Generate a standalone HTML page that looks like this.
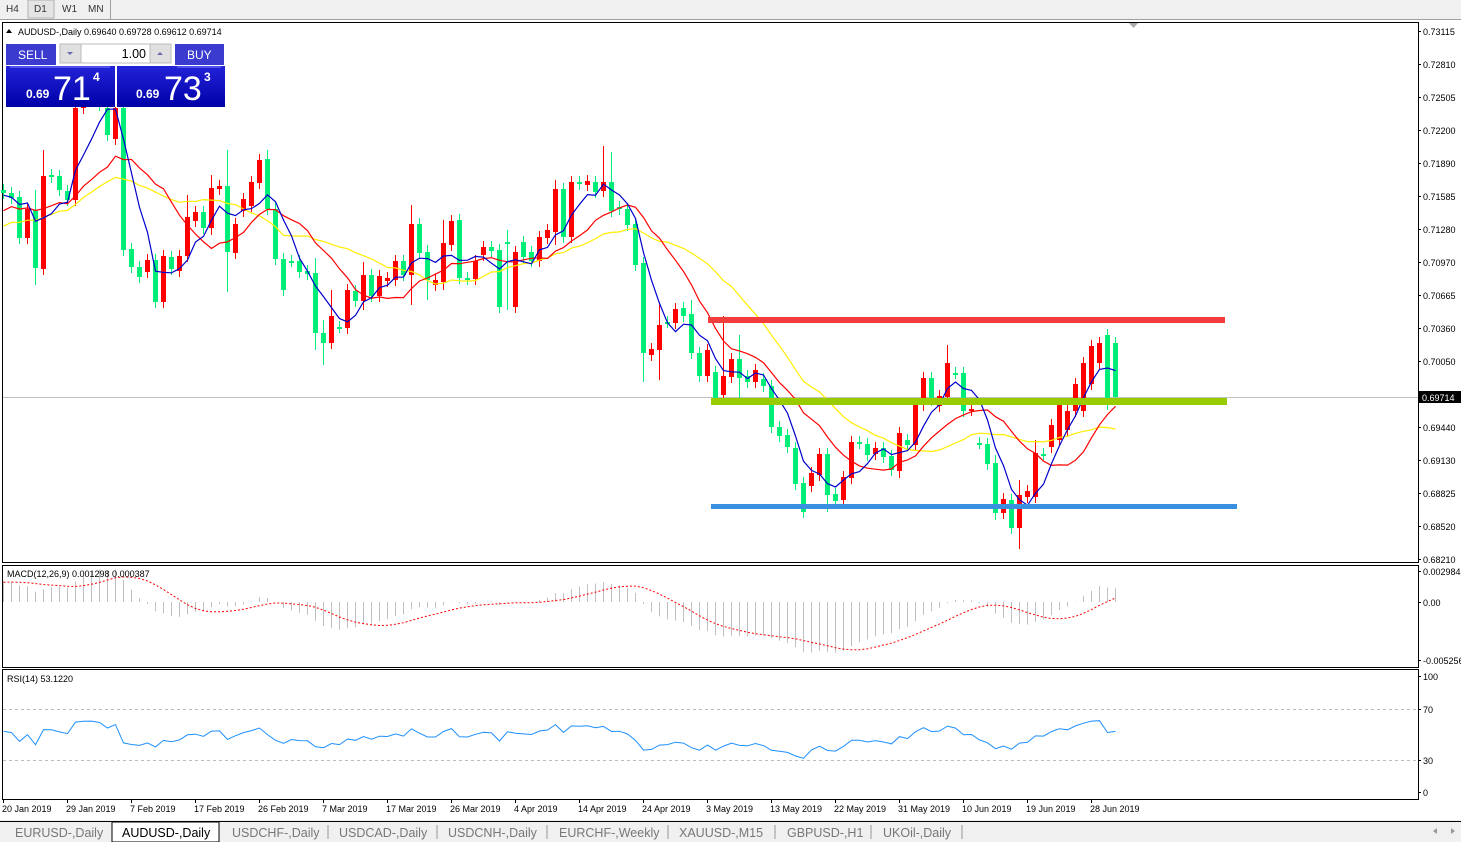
<!DOCTYPE html>
<html><head><meta charset="utf-8"><style>
body{margin:0;width:1461px;height:842px;overflow:hidden;background:#fff;font-family:"Liberation Sans",sans-serif;}
svg{position:absolute;left:0;top:0}
</style></head><body>
<svg id="s" width="1461" height="842" xmlns="http://www.w3.org/2000/svg" font-family="Liberation Sans, sans-serif">
<rect x="0" y="0" width="1461" height="842" fill="#fff"/>
<rect x="0" y="0" width="1461" height="19" fill="#f0f0f0"/>
<line x1="0" y1="19.5" x2="1461" y2="19.5" stroke="#a0a0a0"/>
<rect x="28" y="0" width="26" height="18" fill="#e4e4e4" stroke="#b0b0b0"/>
<line x1="110.5" y1="0" x2="110.5" y2="19" stroke="#a0a0a0"/>
<g font-size="10" fill="#333"><text x="6" y="12">H4</text><text x="34" y="12">D1</text><text x="62" y="12">W1</text><text x="88" y="12">MN</text></g>
<rect x="2.5" y="22.5" width="1416" height="540" fill="none" stroke="#000"/>
<rect x="2.5" y="565.5" width="1416" height="102" fill="none" stroke="#000"/>
<rect x="2.5" y="669.5" width="1416" height="130" fill="none" stroke="#000"/>
<line x1="3" y1="397.5" x2="1418" y2="397.5" stroke="#c0c0c0"/>
<polygon points="1129,23 1138,23 1133.5,28" fill="#aaa"/>
<g id="main"></g>
<rect x="708" y="317" width="517" height="6" fill="#f33c3c"/>
<rect x="711" y="398" width="516" height="7" fill="#99cc00"/>
<rect x="711" y="504" width="526" height="5" fill="#3a90e0"/>
<g id="macd"></g>
<g id="rsi"></g>
<line x1="3" y1="709.5" x2="1418" y2="709.5" stroke="#bbb" stroke-dasharray="3,3"/>
<line x1="3" y1="760.5" x2="1418" y2="760.5" stroke="#bbb" stroke-dasharray="3,3"/>
<g id="axis" font-size="9" fill="#000"></g>
<rect x="1419" y="391" width="42" height="12" fill="#000"/>
<text x="1422" y="401" font-size="9" fill="#fff">0.69714</text>
<g font-size="9" fill="#000">
<text x="18" y="35">AUDUSD-,Daily  0.69640 0.69728 0.69612 0.69714</text>
<text x="7" y="577">MACD(12,26,9) 0.001298 0.000387</text>
<text x="7" y="682">RSI(14) 53.1220</text>
</g>
<polygon points="6,33 12,33 9,29" fill="#000"/>
<rect x="5" y="43" width="220" height="64" fill="#fff"/>
<rect x="6" y="44" width="50" height="21" fill="#3b3bd0"/>
<text x="18" y="59" font-size="12" fill="#fff">SELL</text>
<rect x="60" y="44" width="21" height="19" fill="#e0e0e0" stroke="#bbb"/>
<polygon points="67,52 73,52 70,55" fill="#6a6ab0"/>
<rect x="81" y="44" width="69" height="19" fill="#fff" stroke="#bbb"/>
<text x="146" y="58" font-size="12.5" fill="#000" text-anchor="end">1.00</text>
<rect x="150" y="44" width="21" height="19" fill="#e0e0e0" stroke="#bbb"/>
<polygon points="157,55 163,55 160,52" fill="#6a6ab0"/>
<rect x="175" y="44" width="49" height="21" fill="#3b3bd0"/>
<text x="187" y="59" font-size="12" fill="#fff">BUY</text>
<defs><linearGradient id="g" x1="0" y1="0" x2="0" y2="1"><stop offset="0" stop-color="#2323d8"/><stop offset="1" stop-color="#0000a8"/></linearGradient></defs>
<rect x="6" y="66" width="109" height="41" fill="url(#g)"/>
<rect x="117" y="66" width="108" height="41" fill="url(#g)"/>
<line x1="10" y1="67" x2="110" y2="67" stroke="#8080ff"/><line x1="177" y1="67" x2="221" y2="67" stroke="#8080ff"/>
<g fill="#fff"><text x="26" y="98" font-size="12" font-weight="bold">0.69</text><text x="53" y="100" font-size="34">71</text><text x="93" y="81" font-size="12" font-weight="bold">4</text>
<text x="136" y="98" font-size="12" font-weight="bold">0.69</text><text x="164" y="100" font-size="34">73</text><text x="204" y="81" font-size="12" font-weight="bold">3</text></g>
<rect x="0" y="820" width="1461" height="22" fill="#f0f0f0"/>
<line x1="0" y1="821.5" x2="1461" y2="821.5" stroke="#000"/>
<rect x="112" y="822" width="107" height="20" fill="#fff" stroke="#000"/>
<g font-size="12.5" fill="#777"><text x="15" y="837">EURUSD-,Daily</text><text x="122" y="837" fill="#000">AUDUSD-,Daily</text><text x="232" y="837">USDCHF-,Daily</text><text x="339" y="837">USDCAD-,Daily</text><text x="448" y="837">USDCNH-,Daily</text><text x="559" y="837">EURCHF-,Weekly</text><text x="679" y="837">XAUUSD-,M15</text><text x="787" y="837">GBPUSD-,H1</text><text x="883" y="837">UKOil-,Daily</text></g>
<g stroke="#999"><line x1="328" y1="825" x2="328" y2="839"/><line x1="437" y1="825" x2="437" y2="839"/><line x1="547" y1="825" x2="547" y2="839"/><line x1="668" y1="825" x2="668" y2="839"/><line x1="775" y1="825" x2="775" y2="839"/><line x1="871" y1="825" x2="871" y2="839"/><line x1="962" y1="825" x2="962" y2="839"/></g>
<polygon points="1437,834 1433,831 1437,828" fill="#999"/>
<polygon points="1451,828 1455,831 1451,834" fill="#999"/>
</svg>
<script>
var C=[193,198,238,209,268,176,177,190,200,108,100,98,105,135,108,250,267,277,260,302,256,269,256,217,212,228,188,186,252,224,199,182,160,209,259,290,261,272,274,333,343,316,327,290,301,275,296,276,278,261,275,224,253,280,280,243,221,278,279,261,247,251,307,242,252,257,261,237,230,189,237,182,184,181,192,182,211,209,225,265,353,349,325,322,309,316,353,376,350,398,376,359,378,382,370,386,427,436,447,484,512,473,454,495,501,477,442,443,455,448,457,470,433,445,405,378,400,396,363,373,411,409,443,464,513,499,528,495,491,453,454,425,405,411,384,363,346,343,404,397];
var O=[190,193,197,238,210,269,175,176,191,200,108,100,98,108,139,108,249,267,272,260,302,257,271,256,221,212,228,189,186,253,211,206,183,159,209,259,261,261,271,273,333,343,327,328,291,301,275,296,281,280,261,275,224,252,285,282,245,220,278,279,255,247,250,242,307,242,252,261,238,232,189,237,182,185,182,191,182,207,209,224,263,355,350,322,323,308,314,353,376,372,395,377,359,376,382,379,386,427,435,448,483,486,475,454,494,500,478,442,444,454,448,456,471,440,445,405,378,406,397,373,373,410,443,444,463,513,500,528,497,497,454,447,440,430,411,411,384,363,335,343,406];
function P2Y(p){return 31+(0.73115-p)/0.04905*528;}
function Y2P(y){return 0.73115-(y-31)*0.04905/528;}
var NS="http://www.w3.org/2000/svg";
function el(g,t,a){var e=document.createElementNS(NS,t);for(var k in a)e.setAttribute(k,a[k]);g.appendChild(e);return e;}
var main=document.getElementById('main');
var big={4:[190,285],5:[150,275],15:[105,255],23:[195,260],26:[175,235],28:[150,292],33:[150,215],39:[258,350],40:[320,365],41:[290,345],51:[205,305],53:[245,300],55:[220,290],63:[230,310],69:[180,245],75:[146,195],76:[152,215],80:[258,382],82:[302,380],86:[300,358],90:[316,388],92:[335,398],99:[442,490],103:[450,512],112:[428,478],118:[345,400],124:[455,520],127:[480,549],129:[440,498],138:[335,410],45:[262,310]};
var X=function(i){return 3+8*i;};
for(var i=0;i<C.length;i++){var o=O[i],c=C[i],x=X(i);var up=c<o;var col=up?'#ff0000':'#00ee77';if(i==83||i==107)col='#00ee77';
var t=Math.min(o,c),b=Math.max(o,c);var h=t-6,l=b+6;if(big[i]){h=Math.min(h,big[i][0]);l=Math.max(l,big[i][1]);}
if(i>=9&&i<=14)h=Math.max(h,107);
el(main,'line',{x1:x+.5,y1:h,x2:x+.5,y2:l,stroke:col});
el(main,'rect',{x:x-2,y:t,width:5,height:Math.max(2,b-t),fill:col});}
var H=[];for(var k=0;k<40;k++)H.push(330-(330-195)*k/39+((k%3)-1)*18);
var all=H.concat(C).map(Y2P);var n0=H.length;
function sma(arr,p,i){var s=0,c=0;for(var j=Math.max(0,i-p+1);j<=i;j++){s+=arr[j];c++;}return s/c;}
function line(p,color){var pts=[];for(var i=0;i<C.length;i++){pts.push(X(i)+.5+','+P2Y(sma(all,p,i+n0)).toFixed(1));}el(main,'polyline',{points:pts.join(' '),fill:'none',stroke:color,'stroke-width':1.2});}
line(21,'#ffee00');line(12,'#ff0000');line(5,'#0000cc');
var e12=all[0],e26=all[0],M=[],S=[];
for(var i=0;i<all.length;i++){e12+=(all[i]-e12)*2/13;e26+=(all[i]-e26)*2/27;M.push(e12-e26);}
for(var i=0;i<all.length;i++)S.push(sma(M,9,i));
var mg=document.getElementById('macd');function MY(v){return 602-v*10390;}
var sp=[];for(var i=0;i<C.length;i++){var v=M[i+n0];el(mg,'line',{x1:X(i)+.5,y1:602,x2:X(i)+.5,y2:MY(v).toFixed(1),stroke:'#c0c0c0'});sp.push(X(i)+.5+','+MY(S[i+n0]).toFixed(1));}
el(mg,'polyline',{points:sp.join(' '),fill:'none',stroke:'#ff0000','stroke-dasharray':'2,2'});
var rg=document.getElementById('rsi');var ag=0.0008,al=0.0007,rp=[];
for(var i=n0;i<all.length;i++){var d=i>n0?all[i]-all[i-1]:0;var g=d>0?d:0,l=d<0?-d:0;ag=(ag*13+g)/14;al=(al*13+l)/14;
var ci=i-n0;var r=100-100/(1+ag/al);r=50+(r-50)*0.75;rp.push(X(ci)+.5+','+(798-r*1.27).toFixed(1));}
el(rg,'polyline',{points:rp.join(' '),fill:'none',stroke:'#1e90ff'});
var ax=document.getElementById('axis');
var pl=['0.73115','0.72810','0.72505','0.72200','0.71890','0.71585','0.71280','0.70970','0.70665','0.70360','0.70050','0.69440','0.69130','0.68825','0.68520','0.68210'];
var py=[31,64,97,130,163,196,229,262,295,328,361,427,460,493,526,559];
for(var i=0;i<pl.length;i++){el(ax,'line',{x1:1418,y1:py[i]+.5,x2:1421,y2:py[i]+.5,stroke:'#000'});var t=el(ax,'text',{x:1423,y:py[i]+4});t.textContent=pl[i];}
[['0.002984',571],['0.00',602],['-0.005256',660],['100',676],['70',709],['30',760],['0',792]].forEach(function(a){el(ax,'line',{x1:1418,y1:a[1]+.5,x2:1421,y2:a[1]+.5,stroke:'#000'});var t=el(ax,'text',{x:1423,y:a[1]+4});t.textContent=a[0];});
var dl=['20 Jan 2019','29 Jan 2019','7 Feb 2019','17 Feb 2019','26 Feb 2019','7 Mar 2019','17 Mar 2019','26 Mar 2019','4 Apr 2019','14 Apr 2019','24 Apr 2019','3 May 2019','13 May 2019','22 May 2019','31 May 2019','10 Jun 2019','19 Jun 2019','28 Jun 2019'];
for(var i=0;i<dl.length;i++){var x=3+64*i;el(ax,'line',{x1:x+.5,y1:799,x2:x+.5,y2:803,stroke:'#000'});var t=el(ax,'text',{x:x-1,y:812});t.textContent=dl[i];}
</script>
</body></html>
